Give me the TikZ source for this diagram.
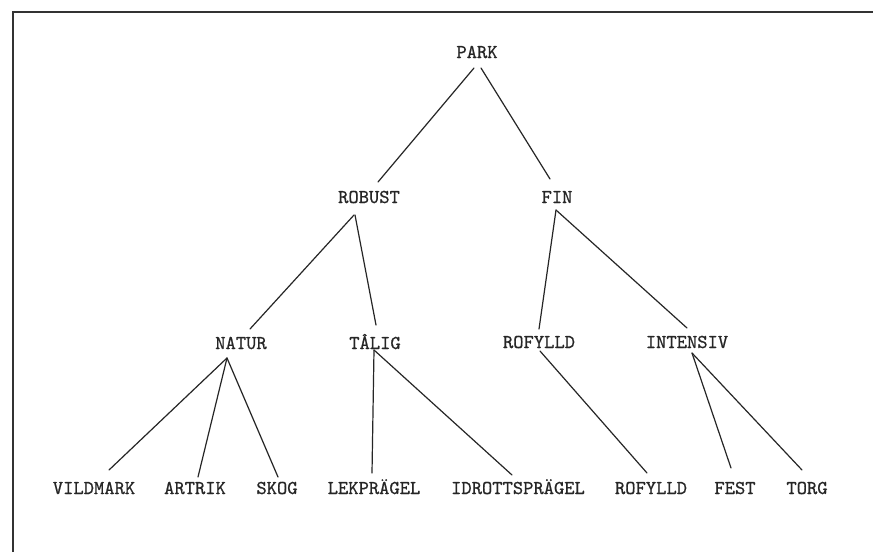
\documentclass[tikz,border=0pt]{standalone}
\usepackage{fontspec}
\newfontfamily\twfont{lmmono10-regular.otf}[FakeBold=0.8]
\begin{document}
\begin{tikzpicture}[x=1pt,y=-1pt,
  lbl/.style={inner sep=0pt,text height=12pt,text depth=0pt,anchor=center,
    font=\fontsize{19.6}{22}\selectfont\twfont,text=black!85},
  edge/.style={line width=1.2pt,draw=black!85,line cap=round},
  frameline/.style={line width=1.8pt,draw=black!80}]
\useasboundingbox (0,0) rectangle (873,552);
\fill[white] (0,0) rectangle (873,552);
% frame
\coordinate (fb) at (13,552);
\coordinate (fc) at (13,12);
\coordinate (fr) at (873,12);
\draw[frameline] (fb) -- (fc) -- (fr);
% nodes
\node[lbl] (park) at (477,52) {PARK};
\node[lbl] (robust) at (369,197) {ROBUST};
\node[lbl] (fin) at (557,197) {FIN};
\node[lbl] (natur) at (241,343) {NATUR};
\node[lbl] (talig) at (375,343) {TÅLIG};
\node[lbl] (rofm) at (539,342) {ROFYLLD};
\node[lbl] (intensiv) at (687,342) {INTENSIV};
\node[lbl] (vild) at (94,488) {VILDMARK};
\node[lbl] (artrik) at (195,488) {ARTRIK};
\node[lbl] (skog) at (277,488) {SKOG};
\node[lbl] (lek) at (374,488) {LEKPRÄGEL};
\node[lbl] (idrott) at (518,488) {IDROTTSPRÄGEL};
\node[lbl] (rofl) at (651,488) {ROFYLLD};
\node[lbl] (fest) at (735,488) {FEST};
\node[lbl] (torg) at (807,488) {TORG};
% connectors
\draw[edge] ([shift={(-3,16)}]park.center) -- ([shift={(9,-15)}]robust.center);
\draw[edge] ([shift={(4,16)}]park.center) -- ([shift={(-7,-18)}]fin.center);
\draw[edge] ([shift={(-15,18)}]robust.center) -- ([shift={(9,-14)}]natur.center);
\draw[edge] ([shift={(-14,18)}]robust.center) -- ([shift={(1,-18)}]talig.center);
\draw[edge] ([shift={(-1,13)}]fin.center) -- ([shift={(0,-13)}]rofm.center);
\draw[edge] ([shift={(-1,13)}]fin.center) -- ([shift={(0,-14)}]intensiv.center);
\draw[edge] ([shift={(-14,15)}]natur.center) -- ([shift={(15,-18)}]vild.center);
\draw[edge] ([shift={(-14,15)}]natur.center) -- ([shift={(3,-11)}]artrik.center);
\draw[edge] ([shift={(-14,15)}]natur.center) -- ([shift={(1,-11)}]skog.center);
\draw[edge] ([shift={(-1,7)}]talig.center) -- ([shift={(-2,-15)}]lek.center);
\draw[edge] ([shift={(-1,7)}]talig.center) -- ([shift={(-6,-13)}]idrott.center);
\draw[edge] ([shift={(1,9)}]rofm.center) -- ([shift={(-4,-15)}]rofl.center);
\draw[edge] ([shift={(5,11)}]intensiv.center) -- ([shift={(-4,-20)}]fest.center);
\draw[edge] ([shift={(5,11)}]intensiv.center) -- ([shift={(-5,-18)}]torg.center);
\end{tikzpicture}
\end{document}
